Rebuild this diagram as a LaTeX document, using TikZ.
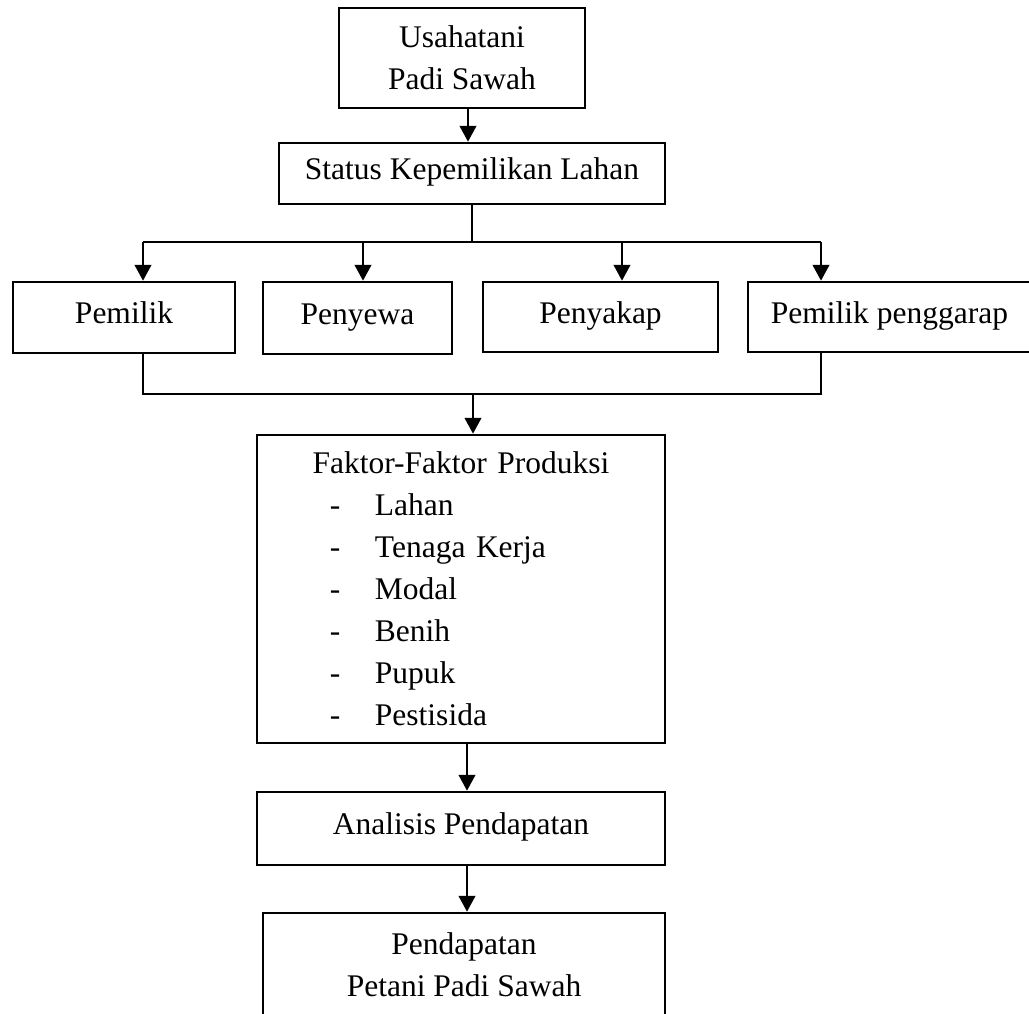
\documentclass[tikz,border=0pt]{standalone}
\usepackage{fontspec}
\setmainfont{Liberation Serif}
\usetikzlibrary{arrows.meta}
\usetikzlibrary{calc}

\tikzset{
  box/.style={draw, line width=1pt, inner sep=0pt, align=center},
  single/.style={text height=9pt, text depth=4pt},
  arr/.style={line width=1.1pt, -{Triangle[width=6.6pt,length=6.4pt]}},
  bus/.style={line width=1pt}
}
\newcommand{\faktoritem}[1]{\makebox[47.2pt][l]{\hspace*{29.2pt}-}#1}

\begin{document}
\begin{tikzpicture}[x=0.4pt, y=-0.4pt, font=\fontsize{12.6}{16.8}\selectfont]
    \useasboundingbox (0,0) rectangle (1029,1014);

    % Top of the chart
    \node[box, minimum width=98.4pt, minimum height=40pt] (usaha) at (462,58) {Usahatani\\Padi Sawah};
    \node[box, single, minimum width=154.4pt, minimum height=24.4pt] (status) at (472,173.5) {Status Kepemilikan Lahan};

    % The four land status boxes
    \node[box, single, minimum width=88.8pt, minimum height=28.4pt] (pemilik) at (124,317.5) {Pemilik};
    \node[box, single, minimum width=75.6pt, minimum height=28.8pt] (penyewa) at (357.5,318) {Penyewa};
    \node[box, single, minimum width=94pt, minimum height=28pt] (penyakap) at (600.5,317) {Penyakap};
    \node[box, single, minimum width=113.2pt, minimum height=28pt] (penggarap) at (889.5,317) {Pemilik penggarap};

    % Production factors and income
    \node[box, align=left, text width=163.2pt, minimum height=123.2pt] (faktor) at (461,589) {%
      \makebox[163.2pt]{Faktor-Faktor Produksi}\\
      \faktoritem{Lahan}\\
      \faktoritem{Tenaga Kerja}\\
      \faktoritem{Modal}\\
      \faktoritem{Benih}\\
      \faktoritem{Pupuk}\\
      \faktoritem{Pestisida}};
    \node[box, single, minimum width=163.2pt, minimum height=29.2pt] (analisis) at (461,828.5) {Analisis Pendapatan};
    \node[box, minimum width=160.8pt, minimum height=41.2pt] (pendapatan) at (464,964.5) {Pendapatan\\Petani Padi Sawah};

    % Bus line points
    \coordinate (top1) at (143,242);
    \coordinate (top2) at (821,242);
    \coordinate (bot1) at (143,394);
    \coordinate (bot2) at (821,394);
    \coordinate (botmid) at (473,394);

    % Connectors
    \draw[arr] ([xshift=2.4pt]usaha.south) -- ([xshift=2.4pt]usaha.south |- status.north);
    \draw[bus] (status.south) -- (status.south |- top1);
    \draw[bus] (top1) -- (top2);
    \foreach \x/\n in {143/pemilik, 363/penyewa, 622/penyakap, 821/penggarap}{
      \coordinate (drop) at (\x,242);
      \draw[arr] (drop) -- (drop |- \n.north);
    }
    \draw[bus] (bot1 |- pemilik.south) -- (bot1) -- (bot2) -- (bot2 |- penggarap.south);
    \draw[arr] (botmid) -- (botmid |- faktor.north);
    \draw[arr] ([xshift=2.4pt]faktor.south) -- ([xshift=2.4pt]analisis.north);
    \draw[arr] ([xshift=2.4pt]analisis.south) -- ([xshift=2.4pt]analisis.south |- pendapatan.north);
\end{tikzpicture}
\end{document}
